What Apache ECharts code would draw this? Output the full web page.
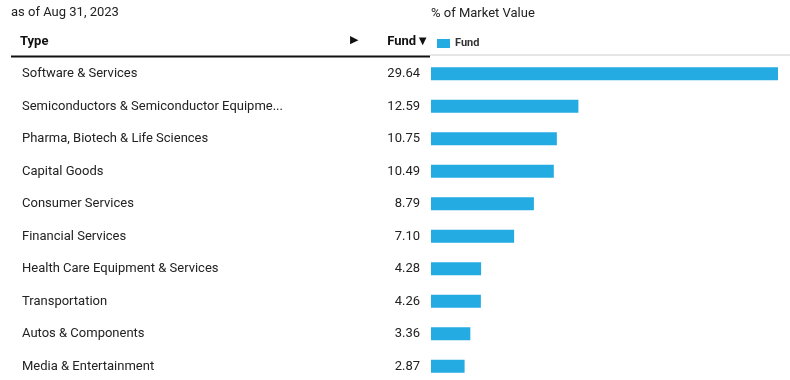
<!DOCTYPE html>
<html><head><meta charset="utf-8">
<script src="https://cdn.jsdelivr.net/npm/echarts@6/dist/echarts.min.js"></script>
<style>html,body{margin:0;padding:0;background:#fff;overflow:hidden}#c{width:790px;height:400px}</style>
</head><body><div id="c"></div>
<script>
const categories = ["Software & Services","Semiconductors & Semiconductor Equipme...","Pharma, Biotech & Life Sciences","Capital Goods","Consumer Services","Financial Services","Health Care Equipment & Services","Transportation","Autos & Components","Media & Entertainment"];
const fundValues = [29.64,12.59,10.75,10.49,8.79,7.10,4.28,4.26,3.36,2.87];
const valueLabels = fundValues.map(v => v.toFixed(2));
const FONT = "Roboto";
const chart = echarts.init(document.getElementById('c'));
chart.setOption({
  animation:false,
  textStyle:{fontFamily:FONT},
  legend:{left:432,top:33,itemWidth:13,itemHeight:9,itemGap:6,icon:'rect',
    textStyle:{fontFamily:FONT,fontSize:11,fontWeight:'bold',color:'#333'},data:['Fund']},
  grid:{left:431,top:57.6,right:7.8,height:325,containLabel:false},
  xAxis:{type:'value',min:0,max:30,show:false},
  yAxis:[
    {type:'category',inverse:true,data:categories,position:'left',
     axisLine:{show:false},axisTick:{show:false},
     axisLabel:{align:'left',margin:409,fontFamily:FONT,fontSize:13,color:'#222'}},
    {type:'category',inverse:true,data:valueLabels,position:'left',
     axisLine:{show:false},axisTick:{show:false},
     axisLabel:{align:'right',margin:11,fontFamily:FONT,fontSize:13,color:'#222'}}
  ],
  series:[{name:'Fund',type:'bar',data:fundValues,barWidth:13,yAxisIndex:0,
    itemStyle:{color:'#24ABE2'}}],
  graphic:[
    {type:'text',left:11,top:6,style:{text:'as of Aug 31, 2023',font:'13px Roboto',fill:'#222'}},
    {type:'text',left:431,top:7,style:{text:'% of Market Value',font:'13px Roboto',fill:'#222'}},
    {type:'text',left:20,top:35,style:{text:'Type',font:'bold 13px Roboto',fill:'#111'}},
    {type:'text',left:350,top:35,style:{text:'▶',font:'11px "DejaVu Sans"',fill:'#111'}},
    {type:'text',right:361,top:35,style:{text:'Fund▼',font:'bold 13px Roboto',fill:'#111'}},
    {type:'rect',shape:{x:430,y:54,width:360,height:2},style:{fill:'#e6e6e6'}},
    {type:'rect',shape:{x:11,y:55.5,width:419,height:2},style:{fill:'#111'}}
  ]
});
</script></body></html>
